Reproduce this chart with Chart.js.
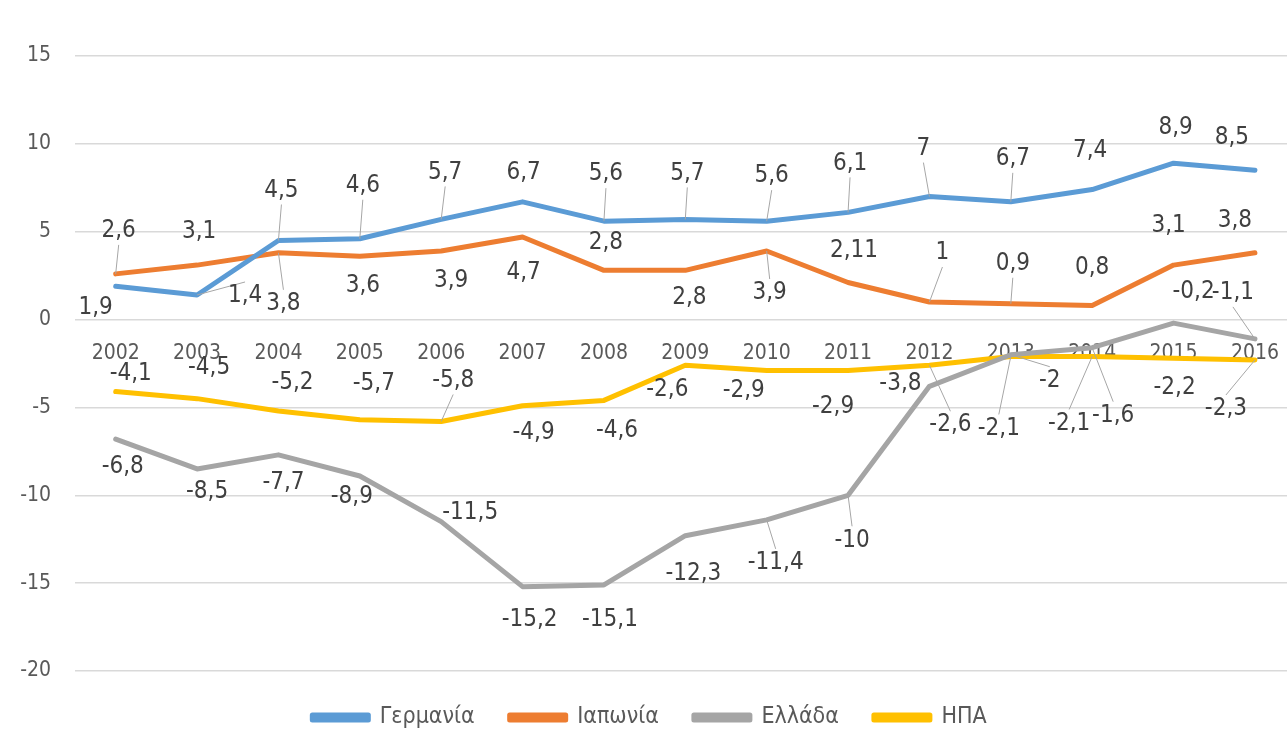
<!DOCTYPE html>
<html lang="el">
<head>
<meta charset="utf-8">
<title>Ισοζύγιο τρεχουσών συναλλαγών</title>
<script src="https://cdn.jsdelivr.net/npm/chart.js@4.4.1/dist/chart.umd.min.js"></script>
<style>
    html, body { margin: 0; padding: 0; background: #fff; overflow: hidden; }
    #wrap { width: 1300px; height: 733px; }
</style>
</head>
<body>
<div id="wrap"><canvas id="chart"></canvas></div>
<script>
// ### DATA ###
const years = ['2002', '2003', '2004', '2005', '2006', '2007', '2008', '2009', '2010', '2011', '2012', '2013', '2014', '2015', '2016'];
const germany = [1.9, 1.4, 4.5, 4.6, 5.7, 6.7, 5.6, 5.7, 5.6, 6.1, 7, 6.7, 7.4, 8.9, 8.5];
const japan = [2.6, 3.1, 3.8, 3.6, 3.9, 4.7, 2.8, 2.8, 3.9, 2.11, 1, 0.9, 0.8, 3.1, 3.8];
const greece = [-6.8, -8.5, -7.7, -8.9, -11.5, -15.2, -15.1, -12.3, -11.4, -10, -3.8, -2, -1.6, -0.2, -1.1];
const usa = [-4.1, -4.5, -5.2, -5.7, -5.8, -4.9, -4.6, -2.6, -2.9, -2.9, -2.6, -2.1, -2.1, -2.2, -2.3];
const yTicks = [15, 10, 5, 0, -5, -10, -15, -20];

// label placement (pixel offset from the point), like Excel's moved labels
const germanyLabelPos = [[-20, 22], [48, 1], [3, -50], [3, -53], [4, -47], [1, -29], [2, -47], [2, -46], [5, -45], [2, -49], [-6, -48], [2, -43], [-2, -39], [2, -35], [-23, -32]];
const japanLabelPos = [[3, -43], [2, -33], [5, 51], [3, 29], [10, 30], [1, 36], [2, -28], [4, 27], [3, 42], [6, -32], [13, -49], [2, -40], [0, -38], [-5, -39], [-20, -32]];
const greeceLabelPos = [[7, 28], [10, 23], [5, 28], [-8, 21], [29, -9], [7, 33], [6, 35], [8, 38], [9, 43], [4, 45], [-29, -3], [39, 26], [21, 68], [20, -31], [-22, -46]];
const usaLabelPos = [[15, -18], [12, -31], [14, -28], [14, -36], [12, -41], [11, 27], [13, 30], [-18, 25], [-23, 20], [-15, 36], [21, 60], [-12, 72], [-23, 67], [1, 30], [-29, 49]];

const FONT = "'Liberation Sans Narrow', 'DejaVu Sans Condensed', sans-serif";

// Greek decimal comma
function fmt(v) {
    return String(v).replace('.', ',');
}

// ### DATA LABELS PLUGIN ###
const valueLabels = {
    id: 'valueLabels',
    afterDatasetsDraw(chart) {
        const ctx = chart.ctx;
        ctx.save();
        ctx.font = '24px ' + FONT;
        ctx.textAlign = 'center';
        ctx.textBaseline = 'middle';
        chart.data.datasets.forEach((ds, di) => {
            const meta = chart.getDatasetMeta(di);
            meta.data.forEach((pt, i) => {
                const off = ds.labelPos[i];
                const lx = pt.x + off[0];
                const ly = pt.y + off[1];
                // leader line when the label sits far from its point
                if (Math.hypot(off[0], off[1]) > 40) {
                    ctx.strokeStyle = '#a6a6a6';
                    ctx.lineWidth = 1;
                    ctx.beginPath();
                    ctx.moveTo(pt.x, pt.y);
                    ctx.lineTo(lx, ly - Math.sign(off[1]) * 14);
                    ctx.stroke();
                }
                ctx.fillStyle = '#404040';
                ctx.fillText(fmt(ds.data[i]), lx, ly);
            });
        });
        ctx.restore();
    }
};

function series(label, data, color, labelPos) {
    return {
        label: label,
        data: data,
        labelPos: labelPos,
        borderColor: color,
        backgroundColor: color,
        borderWidth: 5,
        pointRadius: 0,
        pointHoverRadius: 0,
        tension: 0,
        borderJoinStyle: 'round',
        borderCapStyle: 'round'
    };
}

new Chart(document.getElementById('chart'), {
    type: 'line',
    data: {
        labels: years,
        datasets: [
            series('Γερμανία', germany, '#5B9BD5', germanyLabelPos),
            series('Ιαπωνία', japan, '#ED7D31', japanLabelPos),
            series('Ελλάδα', greece, '#A5A5A5', greeceLabelPos),
            series('ΗΠΑ', usa, '#FFC000', usaLabelPos)
        ]
    },
    options: {
        responsive: true,
        maintainAspectRatio: false,
        animation: false,
        layout: { padding: { top: 56, right: 1, bottom: -6, left: 0 } },
        plugins: {
            legend: {
                position: 'bottom',
                labels: {
                    boxWidth: 56,
                    boxHeight: 5,
                    padding: 35,
                    color: '#595959',
                    font: { family: FONT, size: 23 }
                }
            },
            tooltip: { enabled: false }
        },
        scales: {
            x: {
                position: { y: 0 },
                offset: true,
                grid: { display: false, drawTicks: false },
                border: { display: false },
                ticks: {
                    color: '#595959',
                    padding: 21,
                    maxRotation: 0,
                    font: { family: FONT, size: 21 }
                }
            },
            y: {
                min: -20,
                max: 15,
                afterBuildTicks: axis => {
                    axis.ticks = yTicks.map(v => ({ value: v }));
                },
                afterFit: axis => {
                    axis.width = 75;
                },
                grid: { color: '#d9d9d9', lineWidth: 1.5, drawTicks: false },
                border: { display: false },
                ticks: {
                    color: '#595959',
                    padding: 24,
                    font: { family: FONT, size: 21 }
                }
            }
        }
    },
    plugins: [valueLabels]
});
</script>
</body>
</html>
